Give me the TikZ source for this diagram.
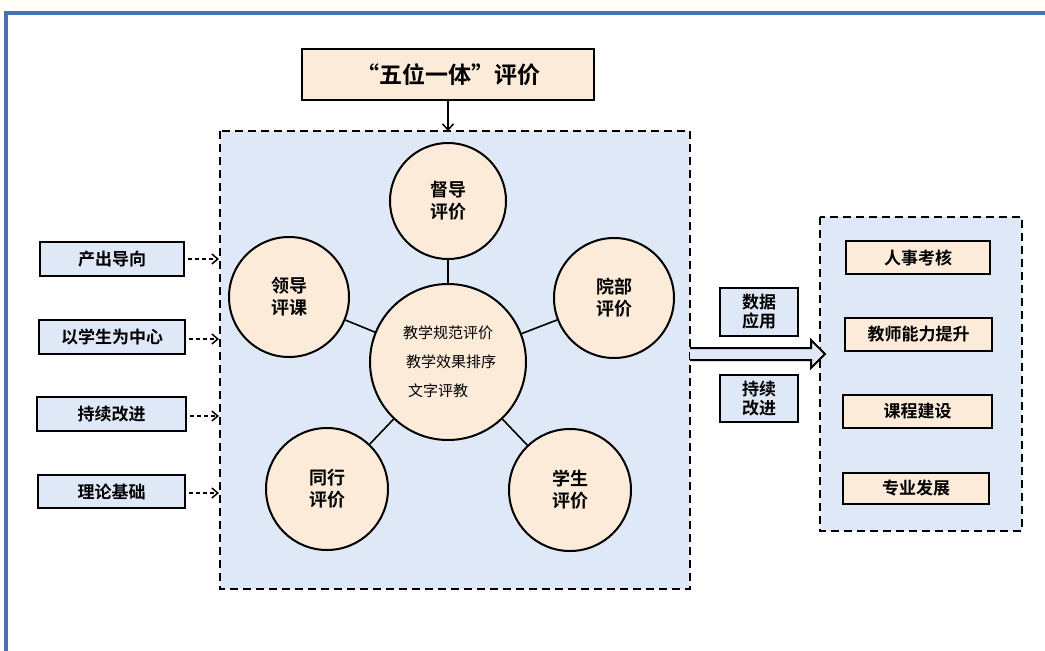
\documentclass[tikz,border=0pt]{standalone}
\usepackage{fontspec}
\setmainfont{Noto Sans CJK SC}
\newfontfamily\cjkb{Noto Sans CJK SC Bold}
\usetikzlibrary{arrows.meta}
\definecolor{bluefill}{HTML}{DEE8F7}
\definecolor{peach}{HTML}{FCEBD9}
\definecolor{frameblue}{HTML}{4A72AE}
\definecolor{cream}{HTML}{FFFDF5}
\tikzset{
  dashbox/.style={draw=black, line width=2.4pt, dash pattern=on 8pt off 5pt, fill=bluefill},
  bluebox/.style={draw=black, line width=2pt, fill=bluefill, font=\cjkb\fontsize{17}{19}\selectfont, inner sep=0pt},
  peachbox/.style={draw=black, line width=2pt, fill=peach, font=\cjkb\fontsize{17}{19}\selectfont, inner sep=0pt},
  circ/.style={circle, draw=black, line width=2pt, fill=peach, inner sep=0pt, align=center, font=\cjkb\fontsize{18}{22}\selectfont},
  spoke/.style={line width=1.6pt},
  dasharr/.style={line width=1.5pt, dash pattern=on 4pt off 3pt, -{Straight Barb[length=6pt,width=10pt,line width=1.5pt]}}
}
\begin{document}
\begin{tikzpicture}[x=1pt,y=-1pt]
\useasboundingbox (0,0) rectangle (1045,651);
\fill[white] (0,0) rectangle (1045,651);
\fill[cream] (0,0) rectangle (1045,11);
\draw[frameblue, line width=3.5pt] (6,651) -- (6,13) -- (1045,13);
% containers
\path[dashbox] (220,131) rectangle (690,589);
\path[dashbox] (820,217) rectangle (1022,531);
% title
\node[peachbox, minimum width=292pt, minimum height=51pt, font=\cjkb\fontsize{23}{27}\selectfont] (title) at (448,74.5) {“五位一体”评价};
\coordinate (mtop) at (448,131);
\draw[line width=1.5pt, -{Straight Barb[length=6pt,width=11pt,line width=1.5pt]}] (title.south) -- (mtop);
% circles
\node[circ, minimum size=156pt, font=\fontsize{15}{29}\selectfont] (c) at (448,362) {教学规范评价\\\hspace*{6pt}教学效果排序\\\hspace*{-20pt}文字评教};
\node[circ, minimum size=116pt] (c1) at (448,201) {督导\\评价};
\node[circ, minimum size=120pt] (c2) at (289,297) {领导\\评课};
\node[circ, minimum size=120pt] (c3) at (614,298) {院部\\评价};
\node[circ, minimum size=122pt] (c4) at (327,489) {同行\\评价};
\node[circ, minimum size=122pt] (c5) at (570,490) {学生\\评价};
\foreach \n in {c1,c2,c3,c4,c5} \draw[spoke] (\n) -- (c);
% left boxes
\node[bluebox, minimum width=144pt, minimum height=34pt] (l1) at (112,259) {产出导向};
\node[bluebox, minimum width=146pt, minimum height=34pt] (l2) at (112,337) {以学生为中心};
\node[bluebox, minimum width=149pt, minimum height=34pt] (l3) at (111.5,414) {持续改进};
\node[bluebox, minimum width=147pt, minimum height=33pt] (l4) at (111.5,491.5) {理论基础};
\coordinate (e1) at (219,259);
\coordinate (e2) at (219,339);
\coordinate (e3) at (219,416);
\coordinate (e4) at (219,493);
\draw[dasharr] (l1.east) ++(3,0) coordinate (s1) (s1) -- (e1);
\draw[dasharr] (l2.east) ++(3,2) coordinate (s2) (s2) -- (e2);
\draw[dasharr] (l3.east) ++(3,2) coordinate (s3) (s3) -- (e3);
\draw[dasharr] (l4.east) ++(3,1.5) coordinate (s4) (s4) -- (e4);
% middle labels
\node[bluebox, minimum width=78pt, minimum height=48pt, align=center] (d1) at (759,312) {数据\\应用};
\node[bluebox, minimum width=78pt, minimum height=47pt, align=center] (d2) at (759,398.5) {持续\\改进};
% hollow arrow
\draw[line width=2pt, fill=bluefill, line join=miter] (690,348) -- (811,348) -- (811,340) -- (825,354) -- (811,368) -- (811,360) -- (690,360);
% right boxes
\node[peachbox, minimum width=144pt, minimum height=33pt] (r1) at (918,257.5) {人事考核};
\node[peachbox, minimum width=147pt, minimum height=33pt] (r2) at (918.5,334.5) {教师能力提升};
\node[peachbox, minimum width=149pt, minimum height=33pt] (r3) at (917.5,411.5) {课程建设};
\node[peachbox, minimum width=146pt, minimum height=31pt] (r4) at (916,488) {专业发展};
\end{tikzpicture}
\end{document}
